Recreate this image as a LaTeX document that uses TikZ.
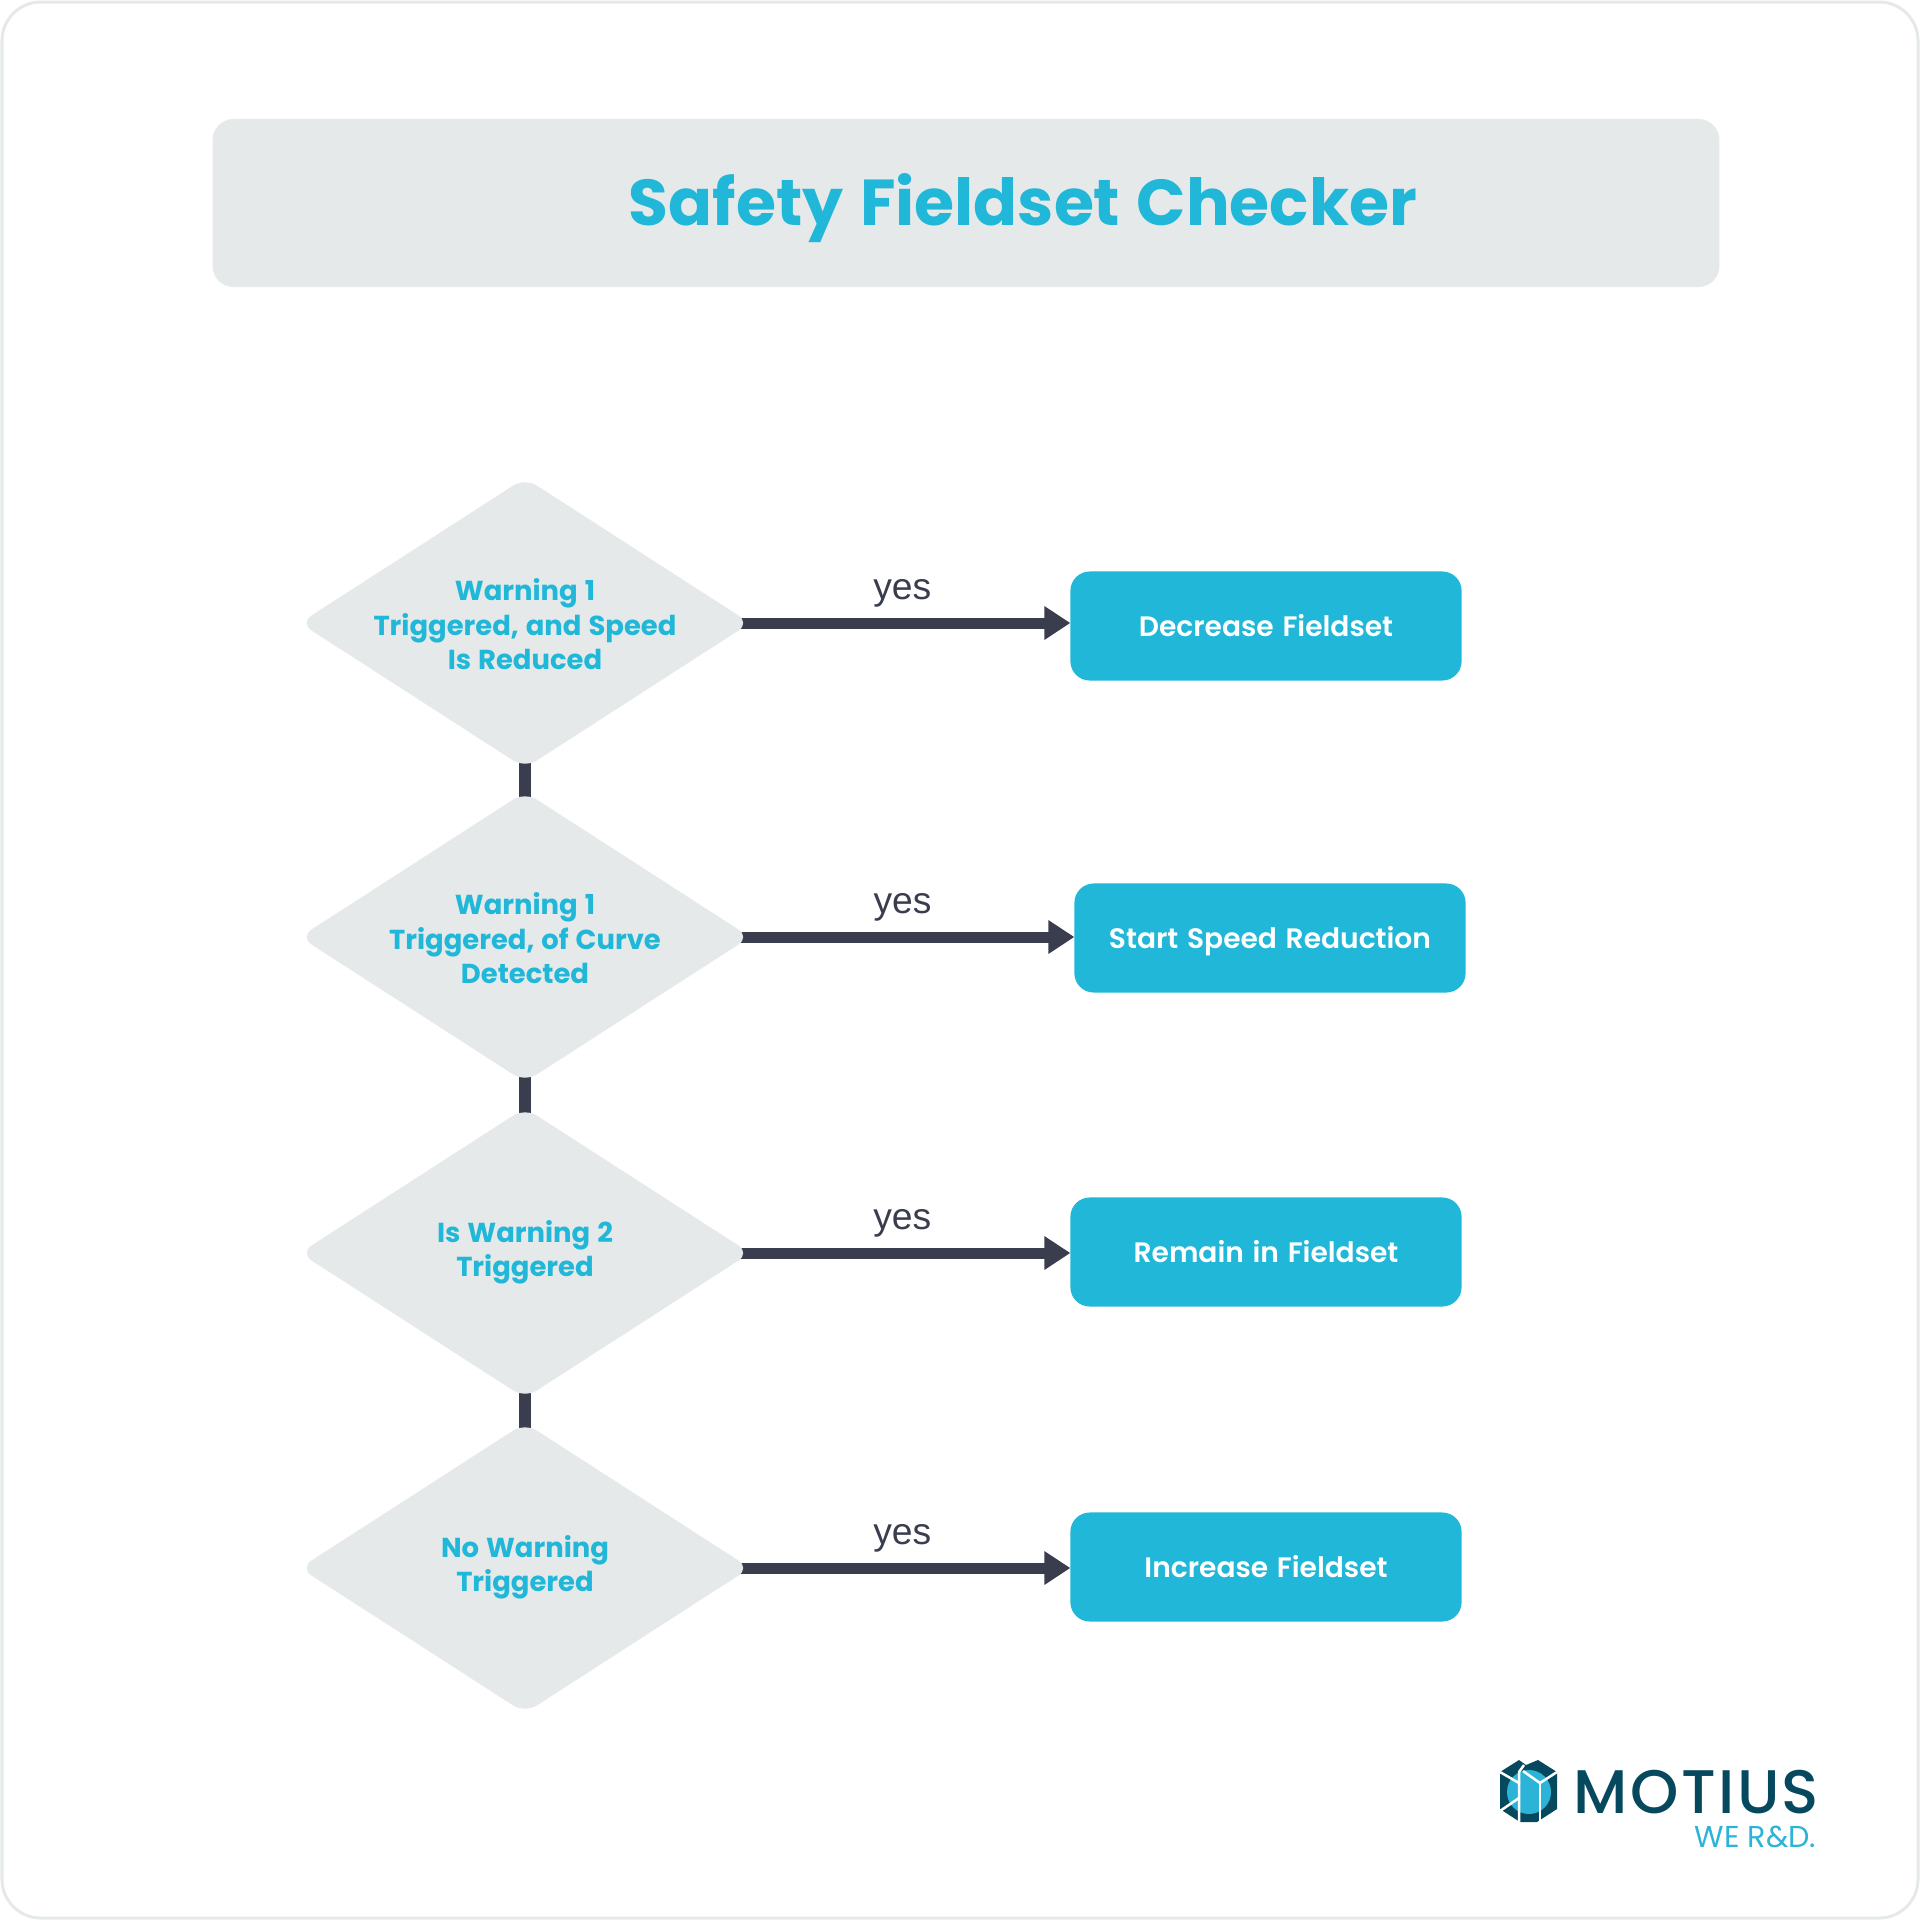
\documentclass[tikz,border=0pt]{standalone}
\usepackage{fontspec}
\setmainfont[WordSpace=1.3,BoldFont={Poppins SemiBold}]{Poppins}
\newfontfamily\titlefont[WordSpace=1.4]{Poppins Bold}
\newfontfamily\askfont[WordSpace=1.2]{Poppins Bold}
\newfontfamily\yesfont{Liberation Sans}
\newfontfamily\logofont[LetterSpace=4]{Poppins Medium}
\newfontfamily\werdfont{Poppins}
\usetikzlibrary{positioning,shapes.geometric,arrows.meta,backgrounds}
\definecolor{teal}{HTML}{20B7D8}
\definecolor{palegrey}{HTML}{E5E9E9}
\definecolor{slate}{HTML}{3A3D4D}
\definecolor{logodark}{HTML}{06495F}
\definecolor{logolight}{HTML}{2CB3D8}
\tikzset{
  decision/.style={shape=diamond,fill=palegrey,rounded corners=4pt,minimum width=4.5cm,minimum height=2.9cm,inner sep=0pt,outer sep=0pt},
  decisiontext/.style={text=teal,align=center,font=\askfont\fontsize{7.8pt}{9.8pt}\selectfont,inner sep=0pt},
  action/.style={fill=teal,rounded corners=5.5pt,minimum width=3.91cm,minimum height=1.09cm,text=white,font=\bfseries\fontsize{8pt}{9.8pt}\selectfont,inner sep=0pt,outer sep=0pt,text height=6pt,text depth=0pt},
  link/.style={slate,line width=1.15mm,shorten <=-1mm,shorten >=-1mm},
  yesarrow/.style={slate,line width=1.1mm,shorten <=-1mm,-{Triangle[length=2.6mm,width=3.2mm]}},
  yeslabel/.style={text=slate,font=\yesfont\fontsize{10.6pt}{12pt}\selectfont,inner sep=0pt}
}
\begin{document}
\begin{tikzpicture}[x=0.01cm,y=-0.01cm]
\useasboundingbox (0,0) rectangle (1920,1920);

\draw[palegrey,line width=0.3mm,rounded corners=11pt] (2,2) rectangle (1918,1918);

\node[fill=palegrey,rounded corners=6pt,minimum width=15.06cm,minimum height=1.68cm] (titlebar) at (966,203) {};
\node[text=teal,inner sep=0pt,font=\titlefont\fontsize{18.45pt}{22pt}\selectfont] (title) at (1023,208) {Safety Fieldset Checker};

\node[decision,label={[decisiontext,yshift=-0.4pt]center:{Warning 1\\Triggered, and Speed\\Is Reduced}}] (D1) at (525,623) {};
\node[decision,label={[decisiontext,yshift=-0.4pt]center:{Warning 1\\Triggered, of Curve\\Detected}}] (D2) at (525,937) {};
\node[decision,label={[decisiontext,yshift=0.2pt]center:{Is Warning 2\\Triggered}}] (D3) at (525,1253) {};
\node[decision,label={[decisiontext,yshift=0.2pt]center:{No Warning\\Triggered}}] (D4) at (525,1568) {};

\node[action] (A1) at (1266,626) {Decrease Fieldset};
\node[action] (A2) at (1270,938) {Start Speed Reduction};
\node[action] (A3) at (1266,1252) {Remain in Fieldset};
\node[action] (A4) at (1266,1567) {Increase Fieldset};

\begin{scope}[on background layer]
\draw[link] (D1.south) -- (D2.north);
\draw[link] (D2.south) -- (D3.north);
\draw[link] (D3.south) -- (D4.north);
\draw[yesarrow] (D1.east) -- (D1.east -| A1.west) node[pos=0.475,yshift=0.30cm,yeslabel] (Y1) {yes};
\draw[yesarrow] (D2.east) -- (D2.east -| A2.west) node[pos=0.47,yshift=0.30cm,yeslabel] (Y2) {yes};
\draw[yesarrow] (D3.east) -- (D3.east -| A3.west) node[pos=0.475,yshift=0.30cm,yeslabel] (Y3) {yes};
\draw[yesarrow] (D4.east) -- (D4.east -| A4.west) node[pos=0.475,yshift=0.30cm,yeslabel] (Y4) {yes};
\end{scope}

\fill[logodark] (1500,1772) -- (1519,1760) -- (1526,1765) -- (1538,1760) -- (1557,1772) -- (1557,1809) -- (1537,1822) -- (1520,1822) -- (1500,1809) -- cycle;
\fill[logolight] (1529,1792) circle (22);
\draw[white,line width=0.25mm] (1523,1771) -- (1540,1783) -- (1557,1772);
\draw[white,line width=0.25mm] (1540,1783) -- (1540,1822);
\draw[white,line width=0.25mm] (1500,1772) -- (1519,1783) -- (1519,1822);
\draw[white,line width=0.25mm] (1524,1765) -- (1519,1772) -- (1519,1783);
\draw[white,line width=0.25mm] (1500,1811) -- (1519,1798);
\node[text=logodark,inner sep=0pt,anchor=west,font=\logofont\fontsize{17.5pt}{20pt}\selectfont] (motius) at (1573,1792) {MOTIUS};
\node[text=logolight,inner sep=0pt,anchor=east,font=\werdfont\fontsize{8.6pt}{10pt}\selectfont] (werd) at (1817,1837) {WE R\&D.};

\end{tikzpicture}
\end{document}
